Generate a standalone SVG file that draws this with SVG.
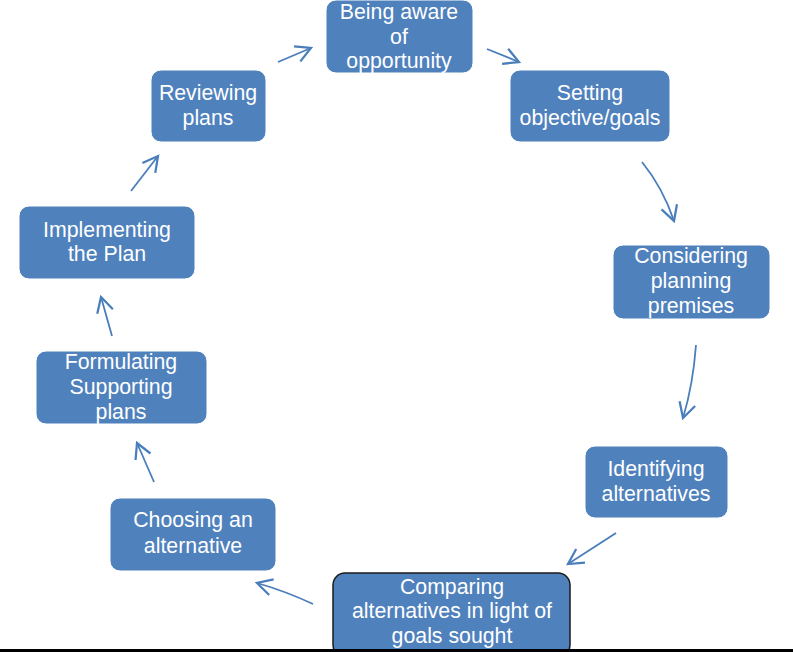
<svg xmlns="http://www.w3.org/2000/svg" width="793" height="652" viewBox="0 0 793 652">
<defs>
<marker id="ah" markerUnits="userSpaceOnUse" markerWidth="20" markerHeight="20" viewBox="-14 -8 16 16" refX="0" refY="0" orient="auto">
<path d="M-12,-6.5 L0,0 L-12,6.5" fill="none" stroke="#4A7EBB" stroke-width="1.8" stroke-linejoin="miter"/>
</marker>
</defs>
<style>
.box{fill:#4F81BD;stroke:#FFFFFF;stroke-width:1}
.sel{fill:#4F81BD;stroke:#1A1A1A;stroke-width:1.5}
.t{font-family:"Liberation Sans",Arial,sans-serif;font-size:21.3px;fill:#FFFFFF;text-anchor:middle}
.c{fill:none;stroke:#4A7EBB;stroke-width:1.8;marker-end:url(#ah)}
</style>
<rect width="793" height="652" fill="#FFFFFF"/>
<g id="n1"><rect class="box" x="326" y="0" width="147" height="73" rx="10"/>
<text class="t" x="399" y="19">Being aware</text><text class="t" x="399" y="44">of</text><text class="t" x="399" y="68">opportunity</text></g>
<g id="n2"><rect class="box" x="510" y="70" width="160" height="72" rx="10"/>
<text class="t" x="590" y="100">Setting</text><text class="t" x="590" y="125">objective/goals</text></g>
<g id="n3"><rect class="box" x="613" y="245" width="157" height="74" rx="10"/>
<text class="t" x="691" y="263">Considering</text><text class="t" x="691" y="288">planning</text><text class="t" x="691" y="313">premises</text></g>
<g id="n4"><rect class="box" x="585" y="446" width="143" height="72" rx="10"/>
<text class="t" x="656" y="476">Identifying</text><text class="t" x="656" y="501">alternatives</text></g>
<g id="n5"><rect class="sel" x="333" y="573" width="237" height="84" rx="12"/>
<text class="t" x="452" y="594">Comparing</text><text class="t" x="452" y="618">alternatives in light of</text><text class="t" x="452" y="643">goals sought</text></g>
<g id="n6"><rect class="box" x="110" y="498" width="166" height="73" rx="10"/>
<text class="t" x="193" y="527">Choosing an</text><text class="t" x="193" y="553">alternative</text></g>
<g id="n7"><rect class="box" x="36" y="351" width="171" height="73" rx="10"/>
<text class="t" x="121" y="369">Formulating</text><text class="t" x="121" y="394">Supporting</text><text class="t" x="121" y="419">plans</text></g>
<g id="n8"><rect class="box" x="19" y="206" width="176" height="73" rx="10"/>
<text class="t" x="107" y="237">Implementing</text><text class="t" x="107" y="261">the Plan</text></g>
<g id="n9"><rect class="box" x="151" y="70" width="115" height="72" rx="10"/>
<text class="t" x="208" y="100">Reviewing</text><text class="t" x="208" y="125">plans</text></g>
<g id="connectors">
<path class="c" d="M278,62 L311,48"/>
<path class="c" d="M487,49 L519,62"/>
<path class="c" d="M642,162 Q663,188 674,221"/>
<path class="c" d="M696,345 Q693,385 683,418"/>
<path class="c" d="M616,533 L568,564"/>
<path class="c" d="M313,604 Q285,591 257,583"/>
<path class="c" d="M154,482 L137,443"/>
<path class="c" d="M112,336 L101,297"/>
<path class="c" d="M131,191 L158,156"/>
</g>
<rect x="0" y="649" width="793" height="3" fill="#000000"/>
</svg>
